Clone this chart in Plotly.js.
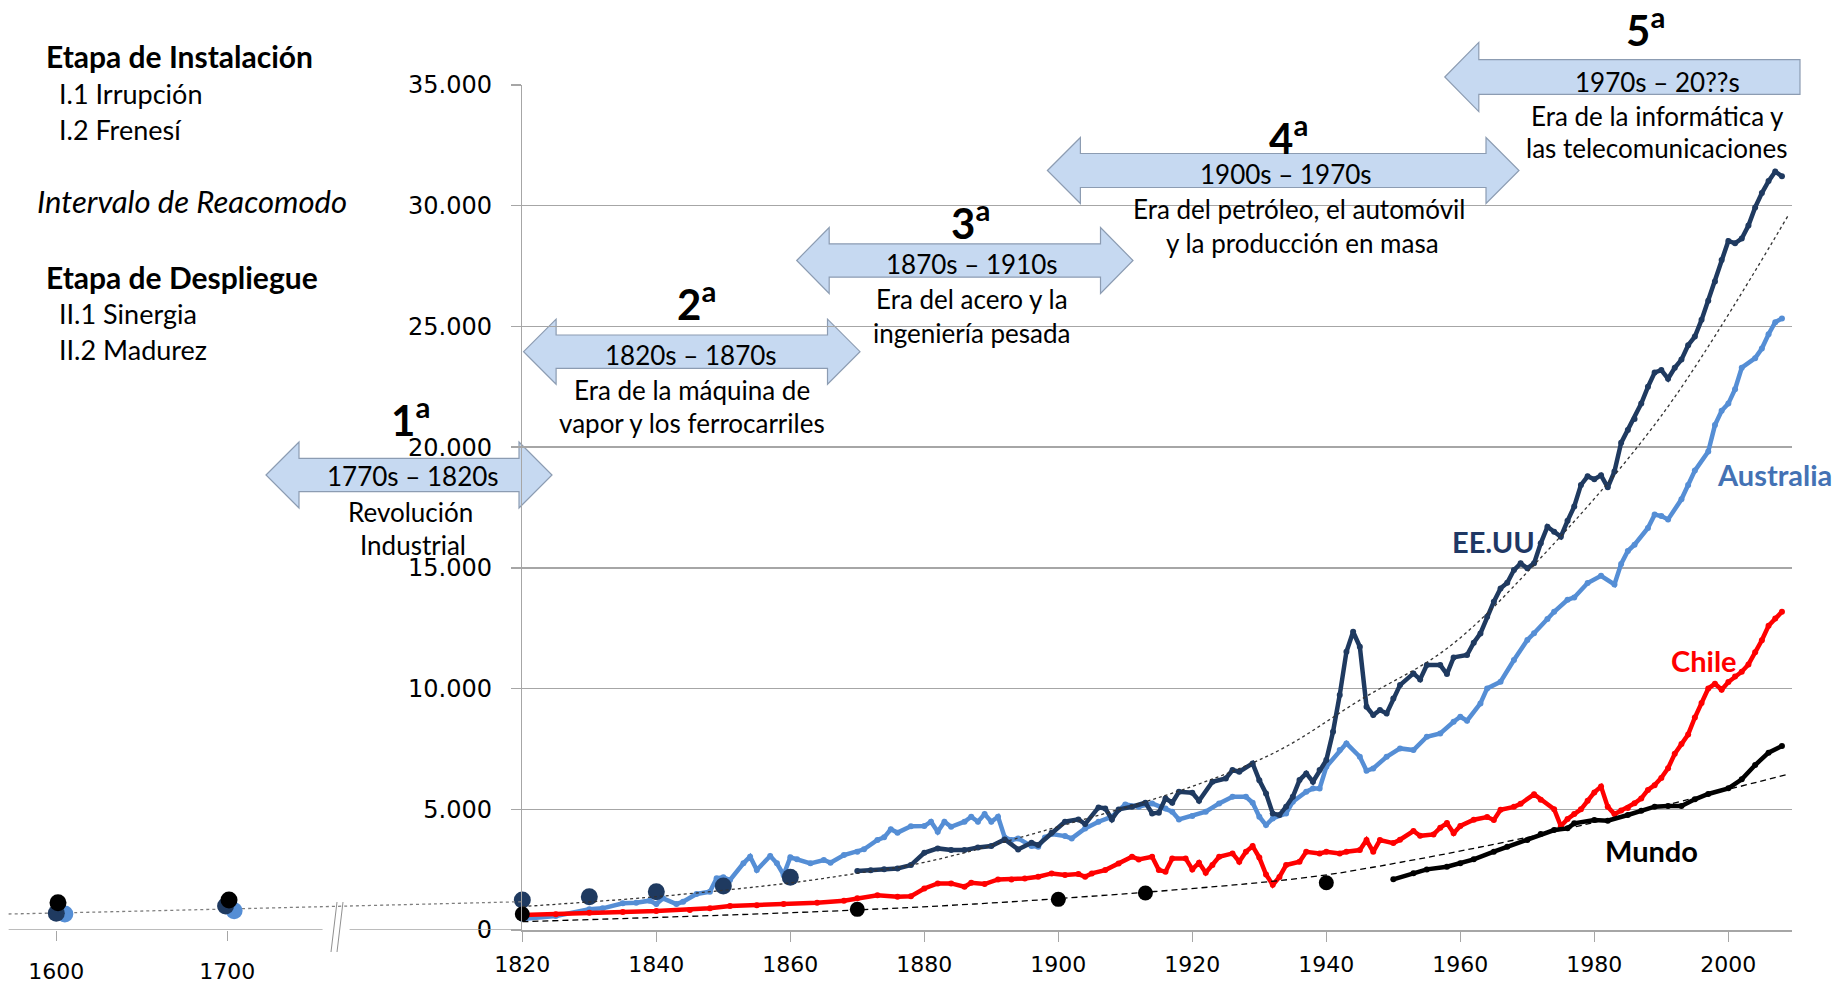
<!DOCTYPE html>
<html><head><meta charset="utf-8">
<script src="https://cdn.plot.ly/plotly-3.0.1.min.js"></script>
<style>html,body{margin:0;padding:0;background:#fff;} #chart{width:1840px;height:986px;}</style>
</head><body><div id="chart"></div>
<script>
// ---------- DATA (PIB per cápita) ----------
const chileYears = [1820,1825,1830,1835,1840,1845,1848,1851,1855,1859,1864,1868,1870,1873,1876,1878,1880,1882,1884,1886,1887,1889,1891,1893,1895,1897,1899,1901,1903,1904,1905,1907,1909,1911,1912,1914,1915,1916,1917,1919,1920,1921,1922,1923,1924,1926,1927,1928,1929,1930,1931,1932,1933,1934,1936,1937,1939,1940,1942,1943,1945,1946,1947,1948,1950,1951,1953,1954,1956,1957,1958,1959,1960,1962,1964,1965,1966,1968,1969,1971,1972,1974,1975,1976,1977,1978,1979,1980,1981,1982,1983,1984,1985,1986,1987,1988,1989,1990,1991,1992,1993,1994,1995,1996,1997,1998,1999,2000,2001,2002,2003,2004,2005,2006,2007,2008];
const chileGDP = [620,650,718,750,787,830,900,995,1030,1077,1132,1215,1312,1436,1381,1400,1722,1930,1930,1791,1957,1902,2095,2095,2136,2206,2344,2275,2316,2206,2344,2482,2758,3034,2924,3034,2482,2413,2965,2965,2509,2786,2371,2689,3034,3172,2827,3241,3476,3000,2300,1870,2200,2690,2826,3240,3171,3240,3171,3240,3310,3724,3240,3724,3600,3740,4100,3900,3960,4240,4430,4010,4310,4570,4680,4555,4980,5100,5230,5620,5400,5000,4300,4600,4800,5000,5350,5700,5940,5100,4800,4950,5050,5250,5450,5800,6000,6300,6700,7300,7700,8100,8800,9400,10000,10200,9950,10270,10500,10700,11000,11500,12000,12600,12900,13180];

const ausYears = [1820,1825,1830,1832,1835,1837,1839,1840,1841,1843,1844,1846,1848,1849,1850,1851,1853,1854,1855,1857,1858,1859,1860,1861,1863,1865,1866,1868,1870,1871,1873,1874,1875,1876,1878,1880,1881,1882,1883,1884,1886,1887,1888,1889,1890,1891,1892,1893,1894,1896,1897,1898,1899,1901,1902,1904,1906,1908,1910,1912,1914,1916,1917,1918,1920,1922,1924,1926,1928,1929,1930,1931,1932,1934,1935,1937,1938,1939,1940,1942,1943,1945,1946,1947,1949,1951,1953,1955,1957,1959,1960,1961,1963,1964,1966,1968,1970,1971,1973,1974,1976,1977,1979,1981,1983,1984,1985,1986,1988,1989,1990,1991,1993,1994,1995,1997,1998,1999,2000,2001,2002,2004,2005,2006,2007,2008];
const ausGDP = [456,580,856,898,1105,1132,1215,1077,1312,1077,1174,1492,1588,2140,2182,2072,2762,3038,2486,3066,2762,2279,3011,2928,2762,2900,2790,3107,3245,3342,3729,3839,4170,4033,4300,4305,4485,4070,4485,4277,4485,4692,4485,4802,4485,4692,3835,3725,3794,3476,3449,3835,3973,3890,3794,4208,4485,4692,5202,5106,5244,5037,4899,4581,4719,4899,5244,5520,5520,5271,4692,4346,4622,4830,5312,5726,5865,5865,6762,7452,7729,7176,6596,6693,7176,7521,7452,8005,8143,8627,8834,8668,9386,10007,10283,11181,12010,12290,12884,13181,13677,13776,14371,14668,14312,15164,15699,15957,16650,17205,17146,17007,17840,18434,19029,19822,20912,21506,21804,22398,23290,23687,24083,24678,25173,25332];

const usYears = [1870,1872,1874,1876,1878,1880,1882,1884,1886,1888,1890,1892,1894,1896,1897,1899,1901,1903,1904,1906,1907,1908,1909,1911,1913,1914,1915,1916,1917,1918,1920,1921,1923,1925,1926,1927,1929,1930,1931,1932,1933,1934,1935,1936,1937,1938,1939,1940,1941,1942,1943,1944,1945,1946,1947,1948,1949,1950,1951,1953,1954,1955,1957,1958,1959,1961,1962,1963,1964,1965,1966,1967,1968,1969,1970,1971,1972,1973,1974,1975,1976,1977,1978,1979,1980,1981,1982,1983,1984,1985,1986,1987,1988,1989,1990,1991,1992,1993,1994,1995,1996,1997,1998,1999,2000,2001,2002,2003,2004,2005,2006,2007,2008];
const usGDP = [2444,2480,2520,2550,2689,3200,3380,3310,3310,3420,3476,3752,3338,3614,3518,4029,4485,4581,4388,5078,5037,4581,4995,5106,5271,4830,4857,5451,5271,5727,5686,5354,6141,6280,6625,6556,6900,6200,5658,4830,4760,5106,5519,6210,6486,6141,6624,7038,8212,9734,11527,12355,11734,9248,8902,9110,8971,9593,10146,10629,10380,10974,10974,10601,11292,11388,11899,12286,12977,13600,14150,14385,14910,15186,14979,15186,16015,16705,16498,16293,16947,17542,18434,18791,18672,18831,18335,18989,20178,20713,21169,21804,22497,23092,23191,22834,23290,23627,24222,24578,25272,26065,26857,27750,28542,28443,28641,29177,29930,30524,31020,31416,31218];

const worldYears = [1950,1953,1955,1958,1960,1962,1965,1967,1970,1972,1974,1976,1977,1980,1982,1985,1987,1989,1991,1993,1995,1997,2000,2002,2004,2006,2008];
const worldGDP = [2097,2346,2511,2622,2760,2926,3243,3451,3727,3975,4141,4210,4417,4555,4528,4763,4942,5108,5136,5136,5412,5633,5867,6240,6834,7345,7621];

const usDecadeYears = [1820,1830,1840,1850,1860];
const usDecadeGDP = [1243,1381,1588,1823,2182];
const worldDotYears = [1820,1870,1900,1913,1940];
const worldDotGDP = [663,856,1270,1530,1960];

const usTrendYears = [1820,1840,1860,1870,1880,1900,1920,1933,1945,1958,1971,1990,2009];
const usTrendValues = [970,1380,1950,2350,2800,4280,5950,7450,9520,11660,15120,21300,29630];
const worldTrendYears = [1820,1870,1900,1936,1948,1975,2009];
const worldTrendValues = [345,830,1300,2140,2650,4140,6460];

// early period (broken axis)
const earlyBlackYears = [1601,1701];
const earlyBlackGDP = [1131,1243];
const earlyUSYears = [1600,1699];
const earlyUSGDP = [691,994];
const earlyAusYears = [1605,1704];
const earlyAusGDP = [663,801];
const preTrendYears = [1572,1600,1700,1872.5];
const preTrendValues = [663,704,870,1172];

const xTickVals = [1820,1840,1860,1880,1900,1920,1940,1960,1980,2000];
const xTickVals2 = [1600,1700];
const yTickVals = [0,5000,10000,15000,20000,25000,30000,35000];
const yTickText = ['0','5.000','10.000','15.000','20.000','25.000','30.000','35.000'];

// ---------- STYLE ----------
const W = 1840, H = 986;
const PX = x => x / W, PY = y => 1 - y / H;
const C_US = '#1F3A60', C_AUS = '#558ED5', C_CL = '#FF0000', C_W = '#000000';
const GRID = '#A6A6A6';

function lineTrace(x, y, color, w, ms) {
  return {type:'scatter', mode:'lines+markers', x:x, y:y, xaxis:'x', yaxis:'y',
    line:{color:color, width:w}, marker:{color:color, size:ms}, hoverinfo:'skip', cliponaxis:false};
}
function dotTrace(x, y, color, size, xa, ya) {
  return {type:'scatter', mode:'markers', x:x, y:y, xaxis:xa||'x', yaxis:ya||'y',
    marker:{color:color, size:size}, hoverinfo:'skip', cliponaxis:false};
}
function trendTrace(x, y, color, dash, w, xa, ya) {
  return {type:'scatter', mode:'lines', x:x, y:y, xaxis:xa||'x', yaxis:ya||'y',
    line:{color:color, width:w, dash:dash, shape:'spline', smoothing:1}, hoverinfo:'skip'};
}

const traces = [
  trendTrace(preTrendYears, preTrendValues, '#7F7F7F', '3px,3px', 1.3, 'x2', 'y2'),
  dotTrace(earlyAusYears, earlyAusGDP, C_AUS, 17, 'x2', 'y2'),
  dotTrace(earlyUSYears, earlyUSGDP, C_US, 17, 'x2', 'y2'),
  dotTrace(earlyBlackYears, earlyBlackGDP, C_W, 17, 'x2', 'y2'),
  lineTrace(ausYears, ausGDP, C_AUS, 4.5, 6),
  lineTrace(usYears, usGDP, C_US, 4.5, 6),
  lineTrace(chileYears, chileGDP, C_CL, 4.5, 6),
  lineTrace(worldYears, worldGDP, C_W, 4.5, 6),
  dotTrace(usDecadeYears, usDecadeGDP, C_US, 17),
  dotTrace(worldDotYears, worldDotGDP, C_W, 15),
  trendTrace(usTrendYears, usTrendValues, '#333', '3px,3px', 1.3),
  trendTrace(worldTrendYears, worldTrendValues, '#000', '6px,4px', 1.3)
];

// ---------- arrows ----------
function arrowPath(x0, x1, yc, hh, sh, hl, leftHead, rightHead) {
  const pts = [];
  if (leftHead) pts.push([x0, yc], [x0 + hl, yc - hh], [x0 + hl, yc - sh]); else pts.push([x0, yc - sh]);
  if (rightHead) pts.push([x1 - hl, yc - sh], [x1 - hl, yc - hh], [x1, yc], [x1 - hl, yc + hh], [x1 - hl, yc + sh]);
  else pts.push([x1, yc - sh], [x1, yc + sh]);
  if (leftHead) pts.push([x0 + hl, yc + sh], [x0 + hl, yc + hh]); else pts.push([x0, yc + sh]);
  return 'M' + pts.map(p => PX(p[0]).toFixed(5) + ',' + PY(p[1]).toFixed(5)).join('L') + 'Z';
}
const arrowDefs = [
  [266, 552, 475, 33, 16.7, 33, true, true],
  [523.6, 860, 351.7, 32.5, 16.7, 32.5, true, true],
  [796.7, 1133, 260.5, 33, 16.7, 32.5, true, true],
  [1047.4, 1519, 170.5, 33, 17, 33, true, true],
  [1444.8, 1800, 77, 34.6, 17.3, 34, true, false]
];
const shapes = arrowDefs.map(a => ({type:'path', xref:'paper', yref:'paper', layer:'below',
  path: arrowPath(...a), fillcolor:'#C6D9F1', line:{color:'#8C9CB2', width:1.2}}));

// broken axis baseline (left part)
shapes.push({type:'line', xref:'x2', yref:'y2', x0:1572, x1:1755.7, y0:0, y1:0, line:{color:GRID, width:1.5}});
shapes.push({type:'line', xref:'x2', yref:'y2', x0:1771.5, x1:1872.5, y0:0, y1:0, line:{color:GRID, width:1.5}});
shapes.push({type:'line', xref:'paper', yref:'paper', x0:PX(331), x1:PX(337), y0:PY(952), y1:PY(902), line:{color:'#909090', width:1}});
shapes.push({type:'line', xref:'paper', yref:'paper', x0:PX(337), x1:PX(343), y0:PY(952), y1:PY(902), line:{color:'#909090', width:1}});

// ---------- annotations ----------
const annotations = [];
function ann(text, x, y, size, o) {
  o = o || {};
  annotations.push({text:text, xref:'paper', yref:'paper', x:PX(x), y:PY(y), showarrow:false,
    xanchor:o.xa || 'center', yanchor:'middle', align:o.align || 'center',
    font:{family:'Lato, Carlito, sans-serif', size:size, color:o.color || '#000'}});
}
// left legend
ann('<b>Etapa de Instalación</b>', 44, 56, 30, {xa:'left'});
ann('I.1 Irrupción', 57, 93, 27, {xa:'left'});
ann('I.2 Frenesí', 57, 129, 27, {xa:'left'});
ann('<i>Intervalo de Reacomodo</i>', 35, 201, 31, {xa:'left'});
ann('<b>Etapa de Despliegue</b>', 44, 277, 30, {xa:'left'});
ann('II.1 Sinergia', 57, 313, 27, {xa:'left'});
ann('II.2 Madurez', 57, 349, 27, {xa:'left'});
// waves
const NUM = 42, TXT = 26;
ann('<b>1<sup>a</sup></b>', 410, 417, NUM);
ann('1770s – 1820s', 413, 476, TXT);
ann('Revolución', 410, 512, TXT);
ann('Industrial', 413, 545, TXT);
ann('<b>2<sup>a</sup></b>', 696, 301, NUM);
ann('1820s – 1870s', 691, 355, TXT);
ann('Era de la máquina de', 692, 390, TXT);
ann('vapor y los ferrocarriles', 692, 423, TXT);
ann('<b>3<sup>a</sup></b>', 970, 220, NUM);
ann('1870s – 1910s', 972, 264, TXT);
ann('Era del acero y la', 972, 299, TXT);
ann('ingeniería pesada', 972, 333, TXT);
ann('<b>4<sup>a</sup></b>', 1288, 135, NUM);
ann('1900s – 1970s', 1286, 174, TXT);
ann('Era del petróleo, el automóvil', 1299, 209, TXT);
ann('y la producción en masa', 1302, 243, TXT);
ann('<b>5<sup>a</sup></b>', 1645, 27, NUM);
ann('1970s – 20??s', 1657, 82, TXT);
ann('Era de la informática y', 1657, 116, TXT);
ann('las telecomunicaciones', 1657, 148, TXT);
// series labels
ann('<b>EE.UU</b>', 1493, 541, 29, {color:'#1F3864'});
ann('<b>Australia</b>', 1774, 474, 29, {color:'#4472B4'});
ann('<b>Chile</b>', 1704, 660, 29, {color:'#FF0000'});
ann('<b>Mundo</b>', 1651, 850, 29, {color:'#000'});

// ---------- layout ----------
const layout = {
  width: W, height: H, margin:{l:0, r:0, t:0, b:0},
  paper_bgcolor:'#fff', plot_bgcolor:'rgba(0,0,0,0)', showlegend:false,
  xaxis:{domain:[PX(522.3), PX(1792)], range:[1820, 2009.5], anchor:'y',
    tickmode:'array', tickvals:xTickVals, ticks:'outside', ticklen:10, tickwidth:1.5, tickcolor:GRID,
    showline:true, linecolor:GRID, linewidth:1.5, showgrid:false, zeroline:false,
    tickfont:{family:'DejaVu Sans', size:22, color:'#000'}, ticklabelstandoff:4},
  yaxis:{domain:[PY(930), PY(85)], range:[0, 35000], anchor:'x',
    tickmode:'array', tickvals:yTickVals, ticktext:yTickText, ticks:'outside', ticklen:10, tickwidth:1.5, tickcolor:GRID,
    showline:true, linecolor:GRID, linewidth:1.5, showgrid:true, gridcolor:GRID, gridwidth:1.5, zeroline:false,
    tickfont:{family:'DejaVu Sans', size:24, color:'#000'}, ticklabelstandoff:14},
  xaxis2:{domain:[PX(8.4), PX(522.3)], range:[1572, 1872.5], anchor:'y2',
    tickmode:'array', tickvals:xTickVals2, ticks:'outside', ticklen:10, tickwidth:1.5, tickcolor:GRID,
    showline:false, showgrid:false, zeroline:false,
    tickfont:{family:'DejaVu Sans', size:22, color:'#000'}, ticklabelstandoff:12},
  yaxis2:{domain:[PY(930), PY(85)], range:[0, 35000], anchor:'x2', visible:false, showgrid:false},
  shapes: shapes, annotations: annotations
};

Plotly.newPlot('chart', traces, layout, {staticPlot:true, displayModeBar:false});
</script>
</body></html>
